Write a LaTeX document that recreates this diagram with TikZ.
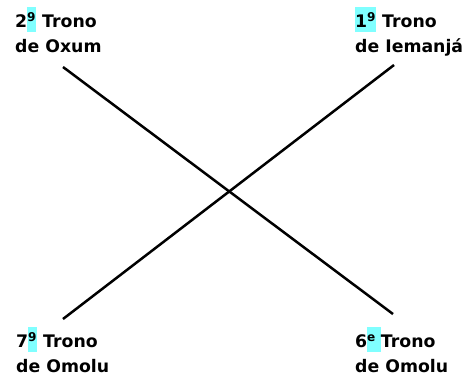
\documentclass[tikz,border=0pt]{standalone}
\usepackage{fontspec}
\setmainfont{DejaVu Sans}
\definecolor{hlcyan}{RGB}{128,255,255}
\newcommand\hl[1]{{\setlength\fboxsep{0pt}\colorbox{hlcyan}{\rule[-4bp]{0pt}{25bp}#1}}}
\begin{document}
\begin{tikzpicture}[x=1bp,y=-1bp,
    trono/.style={anchor=base west,inner sep=0pt,align=left,
      font=\bfseries\fontsize{17.3bp}{24.5bp}\selectfont},
  ]
\useasboundingbox (0,0) rectangle (472,378);
\node[trono] (oxum) at (15,52) {2\hl{\textsuperscript{9}} Trono\\de Oxum};
\node[trono] (iemanja) at (355,52) {\hl{1\textsuperscript{9}} Trono\\de Iemanjá};
\node[trono] (omolusete) at (16,372) {7\hl{\textsuperscript{9}} Trono\\de Omolu};
\node[trono] (omoluseis) at (355,372) {6\hl{\textsuperscript{e}\hspace{5bp}}Trono\\de Omolu};
% the two crossing lines
\coordinate (a) at (63,67);
\coordinate (b) at (393,314);
\coordinate (c) at (394,65);
\coordinate (d) at (63,319);
\draw[line width=2.5bp] (a) -- (b);
\draw[line width=2.5bp] (c) -- (d);
\end{tikzpicture}
\end{document}
